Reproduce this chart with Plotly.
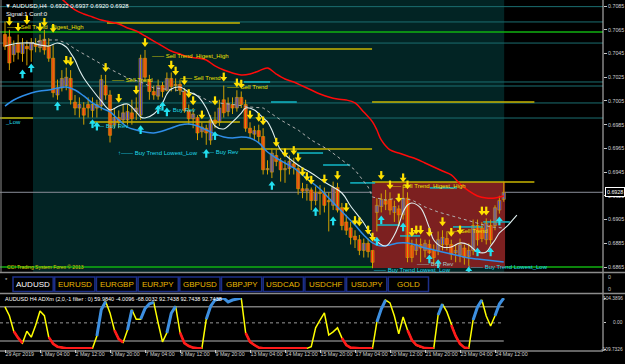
import plotly.graph_objects as go

W, H = 625, 364
FONT = "Liberation Sans, Arial, sans-serif"

# ---------------- price data: AUDUSD H4, 115 bars ----------------
open_ = [
    0.7061, 0.7059, 0.7044, 0.7054, 0.7045, 0.7051, 0.7048, 0.7053, 0.7050, 0.7057,
    0.7051, 0.7041, 0.7010, 0.7016, 0.7018, 0.7024, 0.7004, 0.6999, 0.6999, 0.7002,
    0.6997, 0.6999, 0.7001, 0.7018, 0.7010, 0.6985, 0.6991, 0.6989, 0.6989, 0.6995,
    0.6996, 0.6993, 0.7041, 0.7023, 0.7013, 0.7009, 0.7018, 0.7014, 0.7024, 0.7018,
    0.7019, 0.7013, 0.6997, 0.6990, 0.6991, 0.6979, 0.6982, 0.6972, 0.6989, 0.6987,
    0.7006, 0.6996, 0.7002, 0.6999, 0.7008, 0.7002, 0.6982, 0.6977, 0.6980, 0.6975,
    0.6947, 0.6945, 0.6959, 0.6954, 0.6947, 0.6948, 0.6952, 0.6948, 0.6931, 0.6929,
    0.6930, 0.6921, 0.6928, 0.6927, 0.6921, 0.6917, 0.6932, 0.6915, 0.6903, 0.6898,
    0.6891, 0.6888, 0.6879, 0.6885, 0.6879, 0.6911, 0.6916, 0.6921, 0.6922, 0.6911,
    0.6914, 0.6909, 0.6923, 0.6883, 0.6879, 0.6884, 0.6879, 0.6884, 0.6879, 0.6879,
    0.6884, 0.6889, 0.6884, 0.6877, 0.6875, 0.6881, 0.6874, 0.6879, 0.6900, 0.6898,
    0.6888, 0.6900, 0.6900, 0.6913, 0.6922]
high = [
    0.7072, 0.7065, 0.7056, 0.7061, 0.7058, 0.7056, 0.7058, 0.7058, 0.7061, 0.7065,
    0.7058, 0.7052, 0.7023, 0.7031, 0.7033, 0.7031, 0.7010, 0.7008, 0.7004, 0.7008,
    0.7008, 0.7006, 0.7027, 0.7027, 0.7014, 0.6999, 0.6997, 0.7002, 0.7002, 0.7006,
    0.7008, 0.7044, 0.7048, 0.7027, 0.7018, 0.7023, 0.7021, 0.7029, 0.7029, 0.7024,
    0.7023, 0.7016, 0.7002, 0.6999, 0.6993, 0.6987, 0.6985, 0.6993, 0.6996, 0.7006,
    0.7018, 0.7008, 0.7008, 0.7014, 0.7013, 0.7006, 0.6987, 0.6984, 0.6985, 0.6982,
    0.6955, 0.6965, 0.6964, 0.6957, 0.6955, 0.6959, 0.6957, 0.6951, 0.6936, 0.6935,
    0.6932, 0.6933, 0.6934, 0.6932, 0.6928, 0.6937, 0.6936, 0.6919, 0.6909, 0.6903,
    0.6896, 0.6892, 0.6889, 0.6889, 0.6879, 0.6923, 0.6927, 0.6930, 0.6928, 0.6921,
    0.6917, 0.6934, 0.6928, 0.6888, 0.6889, 0.6889, 0.6888, 0.6888, 0.6884, 0.6895,
    0.6896, 0.6895, 0.6888, 0.6884, 0.6889, 0.6884, 0.6885, 0.6905, 0.6905, 0.6903,
    0.6906, 0.6905, 0.6917, 0.6925, 0.6937]
low = [
    0.7048, 0.7031, 0.7038, 0.7040, 0.7038, 0.7035, 0.7038, 0.7046, 0.7046, 0.7044,
    0.7038, 0.7008, 0.7006, 0.7013, 0.7014, 0.7002, 0.6993, 0.6991, 0.6985, 0.6991,
    0.6991, 0.6991, 0.6997, 0.7006, 0.6970, 0.6982, 0.6982, 0.6985, 0.6985, 0.6985,
    0.6989, 0.6989, 0.7021, 0.7006, 0.7006, 0.7006, 0.7008, 0.7013, 0.7013, 0.7013,
    0.7010, 0.6995, 0.6985, 0.6982, 0.6972, 0.6974, 0.6968, 0.6968, 0.6982, 0.6984,
    0.6991, 0.6992, 0.6994, 0.6996, 0.6999, 0.6979, 0.6974, 0.6972, 0.6970, 0.6943,
    0.6943, 0.6940, 0.6950, 0.6937, 0.6936, 0.6943, 0.6943, 0.6926, 0.6923, 0.6921,
    0.6913, 0.6917, 0.6909, 0.6911, 0.6895, 0.6913, 0.6911, 0.6896, 0.6892, 0.6884,
    0.6881, 0.6875, 0.6873, 0.6873, 0.6864, 0.6895, 0.6911, 0.6913, 0.6909, 0.6903,
    0.6900, 0.6905, 0.6869, 0.6869, 0.6875, 0.6869, 0.6873, 0.6876, 0.6867, 0.6875,
    0.6879, 0.6879, 0.6871, 0.6869, 0.6869, 0.6867, 0.6866, 0.6875, 0.6883, 0.6886,
    0.6884, 0.6884, 0.6896, 0.6910, 0.6920]
close = [
    0.7051, 0.7037, 0.7052, 0.7046, 0.7053, 0.7049, 0.7054, 0.7051, 0.7056, 0.7048,
    0.7041, 0.7012, 0.7016, 0.7024, 0.7025, 0.7006, 0.6999, 0.7002, 0.6993, 0.6999,
    0.7002, 0.7002, 0.7023, 0.7010, 0.6976, 0.6991, 0.6987, 0.6995, 0.6996, 0.6990,
    0.6999, 0.7041, 0.7025, 0.7013, 0.7010, 0.7018, 0.7013, 0.7024, 0.7017, 0.7019,
    0.7014, 0.6997, 0.6990, 0.6994, 0.6978, 0.6983, 0.6978, 0.6989, 0.6986, 0.6999,
    0.6995, 0.7003, 0.6999, 0.7008, 0.7002, 0.6982, 0.6978, 0.6980, 0.6975, 0.6947,
    0.6948, 0.6961, 0.6954, 0.6947, 0.6948, 0.6954, 0.6949, 0.6931, 0.6929, 0.6931,
    0.6921, 0.6928, 0.6927, 0.6917, 0.6920, 0.6932, 0.6913, 0.6900, 0.6896, 0.6890,
    0.6888, 0.6879, 0.6885, 0.6878, 0.6869, 0.6917, 0.6922, 0.6918, 0.6913, 0.6916,
    0.6909, 0.6923, 0.6873, 0.6873, 0.6884, 0.6881, 0.6885, 0.6877, 0.6873, 0.6888,
    0.6890, 0.6884, 0.6876, 0.6879, 0.6884, 0.6873, 0.6879, 0.6900, 0.6888, 0.6889,
    0.6902, 0.6888, 0.6915, 0.6921, 0.6928]
bars = list(range(len(close)))

tick_bars = [0, 8, 16, 24, 32, 40, 48, 56, 64, 72, 80, 88, 96, 104, 112]
tick_labels = ["29 Apr 2019", "1 May 04:00", "2 May 12:00", "3 May 20:00", "7 May 04:00",
               "8 May 12:00", "9 May 20:00", "13 May 04:00", "14 May 12:00", "15 May 20:00",
               "17 May 04:00", "20 May 12:00", "21 May 20:00", "23 May 04:00", "24 May 12:00"]
price_ticks = [0.6865, 0.6885, 0.6905, 0.6925, 0.6945, 0.6965, 0.6985,
               0.7005, 0.7025, 0.7045, 0.7065, 0.7085]
header_text = "▼ AUDUSD,H4  0.6922 0.6937 0.6920 0.6928"
current_price = 0.6928

# ---------------- moving averages ----------------
red_ma_x = [12, 14, 16, 18, 20, 22, 24, 26, 28, 30, 32, 34, 36, 38, 40, 42, 44, 46, 48, 50,
            52, 54, 56, 58, 60, 62, 64, 66, 68, 70, 72, 74, 76, 78, 80, 82, 84, 85, 86, 88,
            90, 92, 94, 96, 98, 100, 102, 104, 106, 108, 110, 112, 114]
red_ma_y = [0.70943, 0.70876, 0.70817, 0.70783, 0.70758, 0.70732, 0.70716, 0.70699, 0.70665, 0.70640,
            0.70598, 0.70555, 0.70513, 0.70471, 0.70446, 0.70420, 0.70412, 0.70395, 0.70345, 0.70311,
            0.70286, 0.70269, 0.70277, 0.70302, 0.70328, 0.70277, 0.70235, 0.70210, 0.70176, 0.70142,
            0.70109, 0.70083, 0.70066, 0.70058, 0.70033, 0.69957, 0.69873, 0.69805, 0.69721, 0.69637,
            0.69611, 0.69586, 0.69561, 0.69527, 0.69493, 0.69459, 0.69426, 0.69350, 0.69291, 0.69249,
            0.69232, 0.69232, 0.69249]
blue_ma_x = list(range(0, 115, 2))
blue_ma_y = [0.70007, 0.70058, 0.70092, 0.70117, 0.70134, 0.70142, 0.70159, 0.70167, 0.70142, 0.70092,
             0.70033, 0.69991, 0.69957, 0.69890, 0.69830, 0.69805, 0.69788, 0.69780, 0.69797, 0.69822,
             0.69847, 0.69856, 0.69839, 0.69805, 0.69771, 0.69746, 0.69738, 0.69746, 0.69738, 0.69696,
             0.69620, 0.69569, 0.69527, 0.69485, 0.69426, 0.69367, 0.69308, 0.69232, 0.69156, 0.69080,
             0.69004, 0.68920, 0.68853, 0.68827, 0.68836, 0.68853, 0.68853, 0.68836, 0.68810, 0.68794,
             0.68777, 0.68760, 0.68743, 0.68726, 0.68718, 0.68709, 0.68701, 0.68692]
white_x = [0, 2, 4, 6, 8, 10, 12, 14, 15, 16, 17, 18, 20, 22, 24, 26, 28, 30, 31, 32,
           34, 36, 37, 38, 40, 42, 44, 46, 47, 48, 50, 52, 54, 55, 57, 59, 60, 61, 63, 66,
           68, 70, 73, 77, 79, 82, 84, 87, 89, 90, 91, 92, 93, 95, 97, 98, 100, 102, 104, 106,
           108, 110, 111, 112, 113, 114, 115, 116, 117]
white_y = [0.70513, 0.70530, 0.70538, 0.70538, 0.70522, 0.70513, 0.70538, 0.70505, 0.70454, 0.70395,
           0.70311, 0.70244, 0.70142, 0.70050, 0.69974, 0.70007, 0.70024, 0.69957, 0.69915, 0.69906,
           0.69940, 0.70033, 0.70109, 0.70151, 0.70167, 0.70125, 0.70092, 0.69991, 0.69906, 0.69839,
           0.69814, 0.69873, 0.69948, 0.69991, 0.69974, 0.69906, 0.69873, 0.69805, 0.69637, 0.69535,
           0.69485, 0.69443, 0.69367, 0.69274, 0.69164, 0.69021, 0.68903, 0.68827, 0.68920, 0.69004,
           0.69114, 0.69173, 0.69190, 0.69148, 0.68979, 0.68878, 0.68819, 0.68819, 0.68853, 0.68836,
           0.68777, 0.68777, 0.68827, 0.68878, 0.68937, 0.68970, 0.69004, 0.69046, 0.69088]
dash_x = [6, 9, 12, 14, 16, 21, 24, 28, 31, 34, 39, 43, 47, 53, 56, 59, 63, 67, 70, 74,
          77, 80, 83, 84, 87, 90, 93, 96, 99, 103, 107, 111, 114]
dash_y = [0.70538, 0.70564, 0.70564, 0.70538, 0.70488, 0.70378, 0.70319, 0.70244, 0.70210, 0.70159,
          0.70142, 0.70117, 0.70041, 0.70016, 0.69999, 0.69991, 0.69890, 0.69805, 0.69721, 0.69637,
          0.69552, 0.69468, 0.69325, 0.69240, 0.69215, 0.69232, 0.69215, 0.69156, 0.69114, 0.69072,
          0.69030, 0.68988, 0.68979]

# ---------------- signal arrows ----------------
sell_x = [1, 3, 5, 8, 9, 11, 14, 15, 23, 26, 30, 32, 38, 39, 41, 42, 43, 45, 48, 50,
          53, 54, 56, 58, 59, 62, 64, 66, 67, 68, 69, 70, 73, 76, 78, 80, 81, 83, 84, 86,
          88, 90, 91, 92, 93, 94, 95, 97, 100, 102, 104, 109, 110]
sell_y = [0.7071, 0.7066, 0.7072, 0.7066, 0.7070, 0.7065, 0.7038, 0.7037, 0.7032, 0.7006,
          0.7013, 0.7053, 0.7034, 0.7029, 0.7021, 0.7010, 0.7004, 0.6992, 0.7004, 0.7024,
          0.7019, 0.7018, 0.6992, 0.6990, 0.6987, 0.6969, 0.6960, 0.6962, 0.6956, 0.6944,
          0.6940, 0.6937, 0.6938, 0.6941, 0.6914, 0.6903, 0.6902, 0.6895, 0.6889, 0.6941,
          0.6933, 0.6922, 0.6939, 0.6933, 0.6893, 0.6895, 0.6895, 0.6893, 0.6902, 0.6893,
          0.6895, 0.6911, 0.6911]
buy_x = [4, 6, 12, 20, 21, 31, 35, 36, 37, 46, 48, 61, 71, 75, 85, 86, 91, 97, 99, 106,
         108, 111, 113]
buy_y = [0.7029, 0.7034, 0.7002, 0.6987, 0.6985, 0.6982, 0.6999, 0.7002, 0.6997, 0.6962,
         0.6977, 0.6935, 0.6913, 0.6905, 0.6888, 0.6906, 0.6900, 0.6873, 0.6869, 0.6863,
         0.6879, 0.6879, 0.6905]

# ---------------- horizontal levels / zones ----------------
teal_levels = [0.70845, 0.70716, 0.70538, 0.70210, 0.70176, 0.70033, 0.69906]
green_levels = [0.70631, 0.68650]
yellow_seg_x0 = [23.3, 53.7, 83.9, -1.2, 19.4, 53.7, 83.9]
yellow_seg_x1 = [53.7, 83.9, 121.0, 6.4, 53.7, 83.9, 121.0]
yellow_seg_p = [0.70707, 0.70488, 0.70041, 0.69906, 0.69873, 0.69645, 0.69367]
cyan_seg_x0 = [54.6, 60.8, 66.7, 72.7, 78.9, 97.1, 90.3, 102.4, 109.3, 85.0]
cyan_seg_x1 = [60.6, 66.7, 72.7, 78.9, 84.6, 103.3, 94.9, 109.3, 115.4, 90.3]
cyan_seg_p = [0.70210, 0.70041, 0.69611, 0.69510, 0.69359, 0.69317, 0.68912, 0.68988, 0.69030, 0.69004]
zone_bars = [83.9, 114.3]
zone_prices = [0.68642, 0.69367]
shade_bars = [6.4, 114.1]

# ---------------- text labels on chart ----------------
label_text = ["—— Sell Trend  Higest_High", "—— Sell Trend", "—— Sell Trend  Higest_High",
              "—— Sell Trend", "—— Sell Trend", "—— Sell Trend  Higest_High", "—— Sell Trend",
              "—— Buy Rev", "—— Buy Rev", "↑—— Buy Trend Lowest_Low", "—— Buy Rev", "_Low",
              "—— Buy Rev", "—— Buy Trend Lowest_Low", "↑—— Buy Trend Lowest_Low"]
label_bar = [0.0, 24.0, 33.1, 39.5, 50.3, 87.3, 100.6, 19.4, 34.7, 25.4, 44.6, -0.5, 93.7, 83.9, 105.4]
label_price = [0.70673, 0.70227, 0.70429, 0.70244, 0.70167, 0.69333, 0.68954, 0.69839, 0.69974,
               0.69611, 0.69620, 0.69873, 0.68676, 0.68625, 0.68650]
label_kind = ["s", "s", "s", "s", "s", "s", "s", "b", "b", "b", "b", "b", "g", "b", "b"]

# ---------------- ADXm indicator ----------------
adx = [67, 30, -35, -63, -85, -35, -60, -10, 50, 30,
       -60, -88, -100, -105, -107, -107, -107, -107, -107, -107,
       -107, -55, 55, 90, 42, -30, -68, -82, -30, 55,
       15, 15, 60, 80, 86, 0, -80, -42, 40, 70,
       -40, -85, -97, -104, -107, -107, 15, 70, 96, 100,
       104, 88, 96, 100, 104, -42, -80, -93, -104, -107,
       -107, -107, -107, -107, -107, -107, -107, -107, -107, -107,
       -100, -21, 12, 42, -51, -38, -21, -63, -93, -104,
       -107, -107, -107, -107, -107, 4, 58, 96, 84, 29,
       -46, 25, -30, -72, -93, -101, -106, -107, -107, 33,
       79, 46, -9, -55, -88, -104, -107, 12, 67, 96,
       29, -13, 30, 79, 104]
adx_color = ("yyyrryyyyy" "yrrrrrrrrr" "rybbyyrryb" "yybbbyyybb" "yrrrrrybbb"
             "bbbbbyrrrr" "rrrrrrrrrr" "yyyyyyyyrr" "rrrrrybbyy" "yyyrrrrrry"
             "byyrrrrybb" "yyybb")
adx_levels = [68, -76]
adx_range = [-109.7326, 104.3896]
adx_tick_vals = [104.3896, 0, -109.7326]
adx_tick_text = ["104.3896", "0.00", "-109.7326"]
adx_title = "AUDUSD H4 ADXm (2,0,-1 filter : 0) 59.9840 -4.0096 -68.0032 92.7438 92.7438 92.7438"

buttons = ["AUDUSD", "EURUSD", "EURGBP", "EURJPY", "GBPUSD", "GBPJPY",
           "USDCAD", "USDCHF", "USDJPY", "GOLD"]

# ---------------- layout geometry (pixels) ----------------
PLOT_R = 603
BAR_PX, BAR0_PX = 4.375, 5.0
x_range = [(0 - BAR0_PX) / BAR_PX, (PLOT_R - BAR0_PX) / BAR_PX]
y_range = [0.68608, 0.70901]
PX_PRICE = (y_range[1] - y_range[0]) / 272  # price per pixel


def px(x):
    return x / W


def py(y):
    return 1 - y / H


fig = go.Figure()


def seg_xy(x0s, x1s, ps):
    xs, ys = [], []
    for a, b, p in zip(x0s, x1s, ps):
        xs += [a, b, None]
        ys += [p, p, None]
    return xs, ys


sx, sy = seg_xy(yellow_seg_x0, yellow_seg_x1, yellow_seg_p)
fig.add_trace(go.Scatter(x=sx, y=sy, mode="lines", line=dict(color="#c8b400", width=1.5),
                         xaxis="x", yaxis="y", hoverinfo="skip"))
sx, sy = seg_xy(cyan_seg_x0, cyan_seg_x1, cyan_seg_p)
fig.add_trace(go.Scatter(x=sx, y=sy, mode="lines", line=dict(color="#12b8c8", width=1.5),
                         xaxis="x", yaxis="y", hoverinfo="skip"))

# candle wicks (gold), then bodies as floating bars
wx, wy = [], []
for b, hi, lo in zip(bars, high, low):
    wx += [b, b, None]
    wy += [lo, hi, None]
fig.add_trace(go.Scatter(x=wx, y=wy, mode="lines", line=dict(color="#d0a000", width=1),
                         xaxis="x", yaxis="y", hoverinfo="skip"))
body_base = [min(o, c) for o, c in zip(open_, close)]
body_h = [max(abs(c - o), PX_PRICE) for o, c in zip(open_, close)]
body_col = ["#2a2aff" if c >= o else "#ff1a1a" for o, c in zip(open_, close)]
fig.add_trace(go.Bar(x=bars, y=body_h, base=body_base, width=0.72,
                     marker=dict(color=body_col, line=dict(color="#d8a000", width=0.6)),
                     xaxis="x", yaxis="y", hoverinfo="skip"))

# moving averages
fig.add_trace(go.Scatter(x=dash_x, y=dash_y, mode="lines", line=dict(color="#b0b0b0", width=1, dash="dot"),
                         xaxis="x", yaxis="y", hoverinfo="skip"))
fig.add_trace(go.Scatter(x=blue_ma_x, y=blue_ma_y, mode="lines", line=dict(color="#2f8ee8", width=1.5, shape="spline"),
                         xaxis="x", yaxis="y", hoverinfo="skip"))
fig.add_trace(go.Scatter(x=white_x, y=white_y, mode="lines", line=dict(color="#e0f0f0", width=1.1, shape="spline"),
                         xaxis="x", yaxis="y", hoverinfo="skip"))
fig.add_trace(go.Scatter(x=red_ma_x, y=red_ma_y, mode="lines", line=dict(color="#ff0a0a", width=1.5, shape="spline"),
                         xaxis="x", yaxis="y", hoverinfo="skip"))

# arrows: head + stem
STEM = 3 * PX_PRICE
fig.add_trace(go.Scatter(x=sell_x, y=[v + STEM for v in sell_y], mode="markers",
                         marker=dict(symbol="line-ns", size=4, line=dict(color="#ffe000", width=2.2)),
                         xaxis="x", yaxis="y", hoverinfo="skip"))
fig.add_trace(go.Scatter(x=sell_x, y=sell_y, mode="markers",
                         marker=dict(symbol="triangle-down", size=6, color="#ffe000", line=dict(width=0)),
                         xaxis="x", yaxis="y", hoverinfo="skip"))
fig.add_trace(go.Scatter(x=buy_x, y=[v - STEM for v in buy_y], mode="markers",
                         marker=dict(symbol="line-ns", size=4, line=dict(color="#22e0f0", width=2.2)),
                         xaxis="x", yaxis="y", hoverinfo="skip"))
fig.add_trace(go.Scatter(x=buy_x, y=buy_y, mode="markers",
                         marker=dict(symbol="triangle-up", size=6, color="#22e0f0", line=dict(width=0)),
                         xaxis="x", yaxis="y", hoverinfo="skip"))

# ---------------- indicator ----------------
lvl_x = [x_range[0], bars[-1]]
for lv in adx_levels:
    fig.add_trace(go.Scatter(x=lvl_x, y=[lv, lv], mode="lines", line=dict(color="#7a7a7a", width=1.5),
                             xaxis="x2", yaxis="y2", hoverinfo="skip"))
fig.add_trace(go.Scatter(x=lvl_x, y=[0, 0], mode="lines", line=dict(color="#9a9a9a", width=1, dash="dot"),
                         xaxis="x2", yaxis="y2", hoverinfo="skip"))
fig.add_trace(go.Scatter(x=bars, y=adx, mode="lines", line=dict(color="#ffff00", width=1.5),
                         xaxis="x2", yaxis="y2", hoverinfo="skip"))


def runs(code):
    xs, ys = [], []
    last = None
    for i in range(1, len(adx)):
        if adx_color[i] == code:
            if last == i - 1:
                xs.append(i); ys.append(adx[i])
            else:
                if xs:
                    xs.append(None); ys.append(None)
                xs += [i - 1, i]; ys += [adx[i - 1], adx[i]]
            last = i
    return xs, ys


bx, by = runs("b")
fig.add_trace(go.Scatter(x=bx, y=by, mode="lines", line=dict(color="#3d8fe0", width=3),
                         xaxis="x2", yaxis="y2", hoverinfo="skip"))
rx, ry = runs("r")
fig.add_trace(go.Scatter(x=rx, y=ry, mode="lines", line=dict(color="#ff1a1a", width=2.6),
                         xaxis="x2", yaxis="y2", hoverinfo="skip"))

# ---------------- shapes ----------------
shapes = []
shapes.append(dict(type="rect", xref="x", yref="y domain", x0=shade_bars[0], x1=shade_bars[1], y0=0, y1=1,
                   fillcolor="#022424", line=dict(width=0), layer="below"))
shapes.append(dict(type="rect", xref="x", yref="y", x0=zone_bars[0], x1=zone_bars[1],
                   y0=zone_prices[0], y1=zone_prices[1], fillcolor="#7c2020", line=dict(width=0), layer="below"))
for lv in teal_levels:
    shapes.append(dict(type="line", xref="x domain", yref="y", x0=0, x1=1, y0=lv, y1=lv,
                       line=dict(color="#1b6e70", width=1), layer="below"))
for lv in green_levels:
    shapes.append(dict(type="line", xref="x domain", yref="y", x0=0, x1=1, y0=lv, y1=lv,
                       line=dict(color="#10b010", width=1.5), layer="below"))
shapes.append(dict(type="line", xref="x domain", yref="y", x0=0, x1=1, y0=current_price, y1=current_price,
                   line=dict(color="#8a8e9a", width=1), layer="below"))
GRAY = "#8c8c8c"
shapes.append(dict(type="line", xref="paper", yref="paper", x0=px(PLOT_R), x1=px(PLOT_R), y0=py(351), y1=py(0),
                   line=dict(color="#c8c8c8", width=1)))
shapes.append(dict(type="line", xref="paper", yref="paper", x0=px(1), x1=px(1), y0=py(272), y1=py(0),
                   line=dict(color=GRAY, width=1)))
for yy in (272.5, 293.5):
    shapes.append(dict(type="line", xref="paper", yref="paper", x0=0, x1=1, y0=py(yy), y1=py(yy),
                       line=dict(color=GRAY, width=1.5)))
shapes.append(dict(type="line", xref="paper", yref="paper", x0=0, x1=px(PLOT_R), y0=py(351), y1=py(351),
                   line=dict(color="#c8c8c8", width=1)))
BTN_W = 41.7
for k, name in enumerate(buttons):
    x0 = 13 + k * BTN_W
    shapes.append(dict(type="rect", xref="paper", yref="paper", x0=px(x0), x1=px(x0 + BTN_W - 1.5),
                       y0=py(291.5), y1=py(277), line=dict(color="#1c2f88", width=1.5), fillcolor="#000000"))

# ---------------- annotations ----------------
ann = []
col = {"s": "#f0e000", "b": "#20d8e8", "g": "#a8c8c8"}
for t, b, p, k in zip(label_text, label_bar, label_price, label_kind):
    ann.append(dict(x=b, y=p, xref="x", yref="y", text=t, showarrow=False, xanchor="left", yanchor="middle",
                    font=dict(family=FONT, size=6, color=col[k])))
for k, name in enumerate(buttons):
    x0 = 13 + k * BTN_W
    ann.append(dict(x=px(x0 + BTN_W / 2 - 0.7), y=py(284.5), xref="paper", yref="paper", text=name,
                    showarrow=False, xanchor="center", yanchor="middle",
                    font=dict(family=FONT, size=8, color="#ffffff" if k == 0 else "#e8b800")))
ann.append(dict(x=px(3), y=py(6), xref="paper", yref="paper", text=header_text, showarrow=False,
                xanchor="left", yanchor="middle", font=dict(family=FONT, size=6, color="#ffffff")))
ann.append(dict(x=px(4), y=py(14), xref="paper", yref="paper", text="Signal:1 Conf:0", showarrow=False,
                xanchor="left", yanchor="middle", font=dict(family=FONT, size=6, color="#ffffff")))
ann.append(dict(x=px(5), y=py(267), xref="paper", yref="paper", text="CCI Trading System Forex © 2013",
                showarrow=False, xanchor="left", yanchor="middle", font=dict(family=FONT, size=5, color="#d8c800")))
ann.append(dict(x=px(3), y=py(298.5), xref="paper", yref="paper", text=adx_title, showarrow=False,
                xanchor="left", yanchor="middle", font=dict(family=FONT, size=5.5, color="#ffffff")))
ann.append(dict(x=px(3), y=py(280), xref="paper", yref="paper", text="*", showarrow=False,
                xanchor="left", yanchor="middle", font=dict(family=FONT, size=6, color="#c0c0c0")))
for yy in (277, 289):
    ann.append(dict(x=px(606), y=py(yy), xref="paper", yref="paper", text="0", showarrow=False,
                    xanchor="left", yanchor="middle", font=dict(family=FONT, size=5.3, color="#c8c8c8")))
ann.append(dict(x=px(PLOT_R + 2), y=current_price, xref="paper", yref="y", text="0.6928", showarrow=False,
                xanchor="left", yanchor="middle", bgcolor="#000000", bordercolor="#ffffff", borderwidth=1,
                borderpad=1, font=dict(family=FONT, size=5.3, color="#ffffff")))
# indicator scale labels, right-aligned to the window edge so they stay inside
for v, t in zip(adx_tick_vals, adx_tick_text):
    ann.append(dict(x=1, y=v, xref="paper", yref="y2", text=t, showarrow=False, xanchor="right",
                    yanchor="middle", font=dict(family=FONT, size=4.8, color="#d0d0d0")))

AX = dict(showgrid=False, zeroline=False, automargin=False)
TF = dict(family=FONT, size=5.3, color="#d0d0d0")
fig.update_layout(
    width=W, height=H, autosize=False, margin=dict(l=0, r=0, t=0, b=0, pad=0),
    paper_bgcolor="#000000", plot_bgcolor="#000000", barmode="overlay",
    showlegend=False, hovermode=False, shapes=shapes, annotations=ann,
    xaxis=dict(domain=[0, px(PLOT_R)], range=x_range, anchor="y", showticklabels=False, ticks="",
               showline=False, **AX),
    yaxis=dict(domain=[py(272), 1], range=y_range, anchor="x", side="right", tickvals=price_ticks,
               tickformat=".4f", ticks="outside", ticklen=3, tickcolor="#c8c8c8",
               tickfont=TF, showline=False, **AX),
    xaxis2=dict(domain=[0, px(PLOT_R)], range=x_range, anchor="y2", tickvals=tick_bars, ticktext=tick_labels,
                ticklabelposition="outside right", tickangle=0, ticks="outside", ticklen=3, tickcolor="#c8c8c8",
                tickfont=TF, showline=False, **AX),
    yaxis2=dict(domain=[py(349), py(298)], range=adx_range, anchor="x2", side="right",
                tickvals=adx_tick_vals, showticklabels=False,
                ticks="outside", ticklen=2, tickcolor="#c8c8c8", showline=False, **AX),
)

fig.write_html("out.html", config={"displayModeBar": False, "responsive": False})
